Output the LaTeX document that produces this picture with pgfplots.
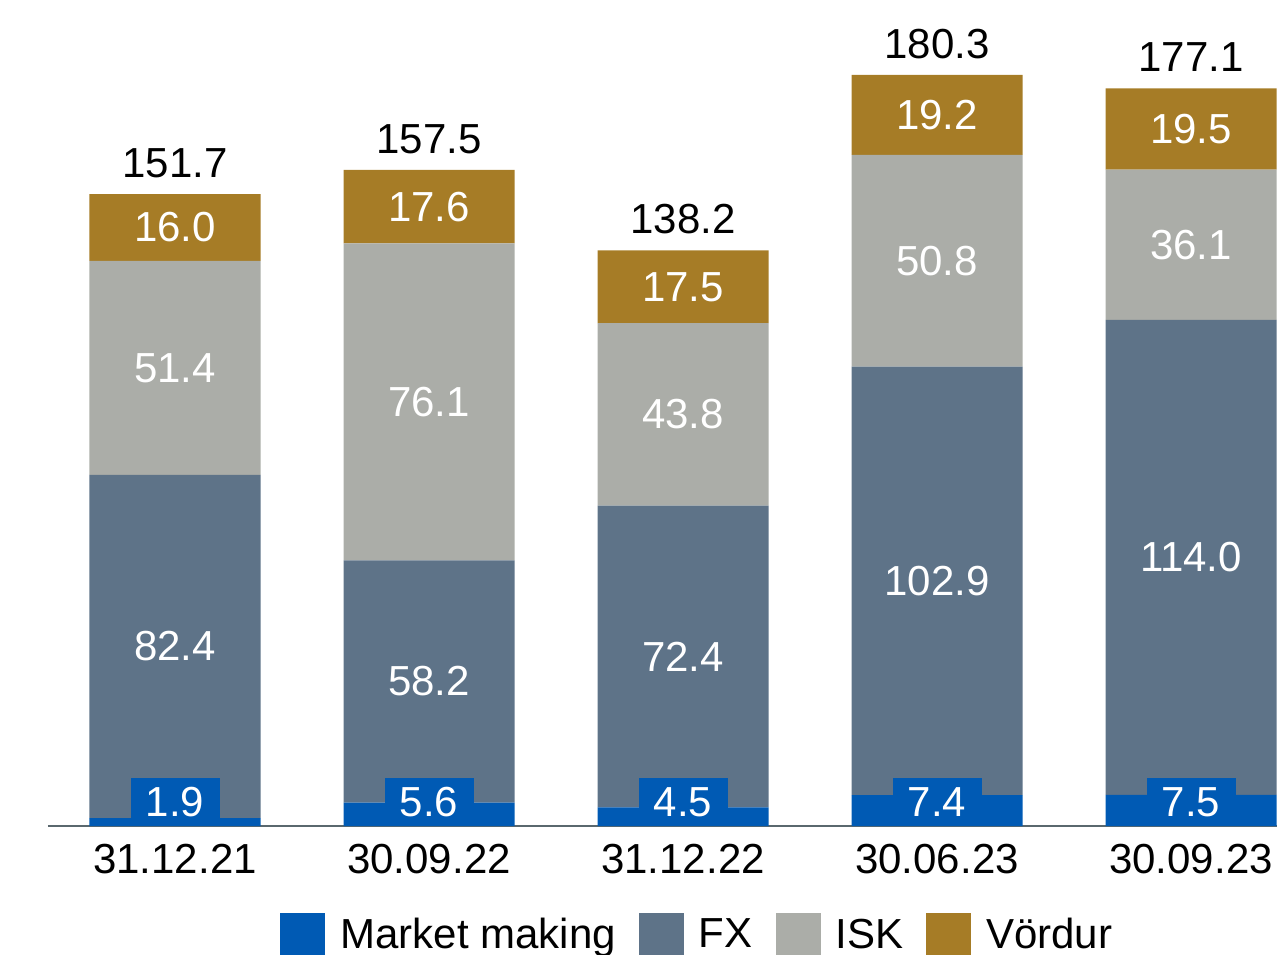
\documentclass[border=0pt]{standalone}
\usepackage{pgfplots}
\pgfplotsset{compat=1.18}
\usepackage{fontspec}
\setmainfont{Liberation Sans}

\definecolor{mm}{RGB}{0,90,180}
\definecolor{fx}{RGB}{94,115,136}
\definecolor{isk}{RGB}{171,173,168}
\definecolor{vor}{RGB}{166,124,38}
\definecolor{axl}{RGB}{90,104,110}

\newcommand{\lbl}{\fontsize{21}{25}\selectfont}
% 1 y unit = 413pt/198.3
\newcommand{\unitpt}{2.0827}

\pgfplotsset{
  leg/.style={legend image code/.code={\fill[##1] (0pt,-11.25pt) rectangle (22.5pt,11.25pt);}},
  num/.style={
    nodes near coords={\pgfmathprintnumber[fixed,zerofill,precision=1,assume math mode=true]{\rawy}},
    visualization depends on=rawy \as \rawy},
  seg/.style={num,
    every node near coord/.style={font=\lbl, text=white, anchor=center}},
}

% Vordur segment and the total of each bar
\pgfplotstableread{
x  y     total
0  16.0  151.7
1  17.6  157.5
2  17.5  138.2
3  19.2  180.3
4  19.5  177.1
}\vordur

\begin{document}
\begin{tikzpicture}
\begin{axis}[
  name=ax, clip=false,
  scale only axis, width=614.5pt, height=413pt,
  ybar stacked, bar width=85.5pt,
  xmin=-0.5, xmax=4.3386, ymin=0, ymax=198.3,
  axis x line*=bottom, axis y line=none,
  x axis line style={draw=axl, line width=1pt, -},
  xtick={0,1,2,3,4},
  xticklabels={31.12.21,30.09.22,31.12.22,30.06.23,30.09.23},
  major tick length=0pt,
  xticklabel style={font=\lbl, text=black, yshift=-5.5pt},
  legend style={at={(0.1888,-0.1320)}, anchor=west, draw=none, fill=none,
    inner sep=0pt, font=\lbl, legend columns=-1,
    nodes={inner sep=0pt},
    /tikz/every even column/.append style={column sep=11.5pt},
    /tikz/every odd column/.append style={column sep=7.5pt}},
]
\addplot[draw=none, fill=mm, leg, num,
  every node near coord/.style={font=\lbl, text=white, anchor=center, fill=mm,
    minimum width=44.5pt, minimum height=24pt, inner sep=0pt,
    yshift={(5.76-\rawy/2)*\unitpt}}]
  coordinates {(0,1.9) (1,5.6) (2,4.5) (3,7.4) (4,7.5)};
\addplot[draw=none, fill=fx, leg, seg]
  coordinates {(0,82.4) (1,58.2) (2,72.4) (3,102.9) (4,114.0)};
\addplot[draw=none, fill=isk, leg, seg]
  coordinates {(0,51.4) (1,76.1) (2,43.8) (3,50.8) (4,36.1)};
\addplot[draw=none, fill=vor, leg, num,
  visualization depends on=\thisrow{total} \as \tot,
  every node near coord/.style={font=\lbl, text=white, anchor=center,
    label={[font=\lbl, text=black, inner sep=0pt,
      yshift={\rawy*\unitpt/2+15.5pt}]center:\pgfmathprintnumber[fixed,zerofill,precision=1,assume math mode=true]{\tot}}}]
  table[x=x, y=y] {\vordur};
\legend{Market making,FX,ISK,V\"ordur}
\end{axis}
\pgfresetboundingbox
\path[use as bounding box] ([xshift=-24pt,yshift=-64pt]ax.south west) rectangle (ax.north east);
\end{tikzpicture}
\end{document}
